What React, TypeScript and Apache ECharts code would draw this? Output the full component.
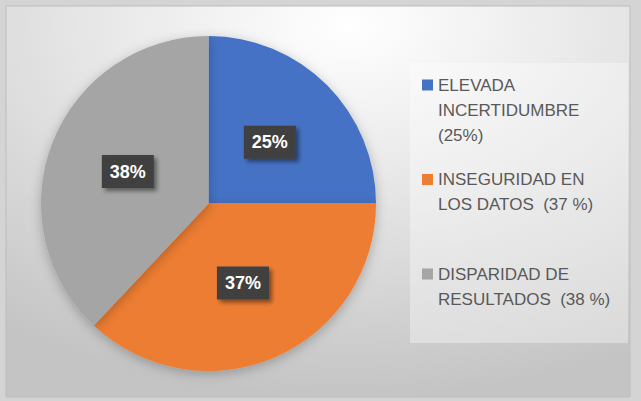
import React, { useEffect, useRef } from "react";
import * as echarts from "echarts";

const categories = ["ELEVADA INCERTIDUMBRE", "INSEGURIDAD EN LOS DATOS", "DISPARIDAD DE RESULTADOS"];
const values = [25, 37, 38];
const legendLabels = [
  "ELEVADA\nINCERTIDUMBRE\n(25%)",
  "INSEGURIDAD EN\nLOS DATOS  (37 %)\n ",
  "DISPARIDAD DE\nRESULTADOS  (38 %)\n ",
];
const colors = ["#4472C4", "#ED7D31", "#A5A5A5"];

export default function App() {
  const ref = useRef<HTMLDivElement>(null);
  useEffect(() => {
    document.body.style.margin = "0";
    const chart = echarts.init(ref.current!, null, { renderer: "svg" });
    const total = values.reduce((a, b) => a + b, 0);
    chart.setOption({
      animation: false,
      backgroundColor: "#d4d4d4",
      graphic: [
        {
          type: "rect",
          z: -10,
          shape: { x: 6, y: 6, width: 624, height: 391 },
          style: {
            fill: {
              type: "radial",
              x: 0.55,
              y: 0.05,
              r: 0.95,
              colorStops: [
                { offset: 0, color: "#ffffff" },
                { offset: 0.45, color: "#e6e6e6" },
                { offset: 1, color: "#c4c4c4" },
              ],
            },
            stroke: "#bdbdbd",
            lineWidth: 1,
          },
        },
        {
          type: "rect",
          z: -5,
          shape: { x: 410, y: 63, width: 218, height: 280 },
          style: { fill: "rgba(255,255,255,0.35)" },
        },
      ],
      legend: {
        orient: "vertical",
        left: 422,
        top: 22.5,
        height: 370,
        padding: 0,
        itemWidth: 11,
        itemHeight: 11,
        itemGap: -30.5,
        icon: "rect",
        data: categories,
        formatter: (name: string) => "\n\n" + legendLabels[categories.indexOf(name)],
        textStyle: {
          fontFamily: "Liberation Sans, Arial, sans-serif",
          fontSize: 17,
          color: "#595959",
          lineHeight: 25,
        },
      },
      series: [
        {
          type: "pie",
          center: [208.5, 203.5],
          radius: [0, 167.5],
          startAngle: 90,
          clockwise: true,
          color: colors,
          data: categories.map((c, i) => ({ name: c, value: values[i] })),
          itemStyle: {
            shadowBlur: 12,
            shadowColor: "rgba(0,0,0,0.25)",
            shadowOffsetY: 3,
          },
          label: {
            show: true,
            position: "inside",
            formatter: (p: any) => Math.round((p.value / total) * 100) + "%",
            color: "#ffffff",
            fontWeight: "bold",
            fontSize: 18,
            fontFamily: "Liberation Sans, Arial, sans-serif",
            backgroundColor: "#404040",
            padding: [8, 8, 7, 8],
            shadowBlur: 4,
            shadowOffsetX: 3,
            shadowOffsetY: 3,
            shadowColor: "rgba(0,0,0,0.45)",
          },
          labelLine: { show: false },
          emphasis: { disabled: true },
        },
      ],
    });
    return () => chart.dispose();
  }, []);
  return <div ref={ref} style={{ width: 641, height: 401 }} />;
}
